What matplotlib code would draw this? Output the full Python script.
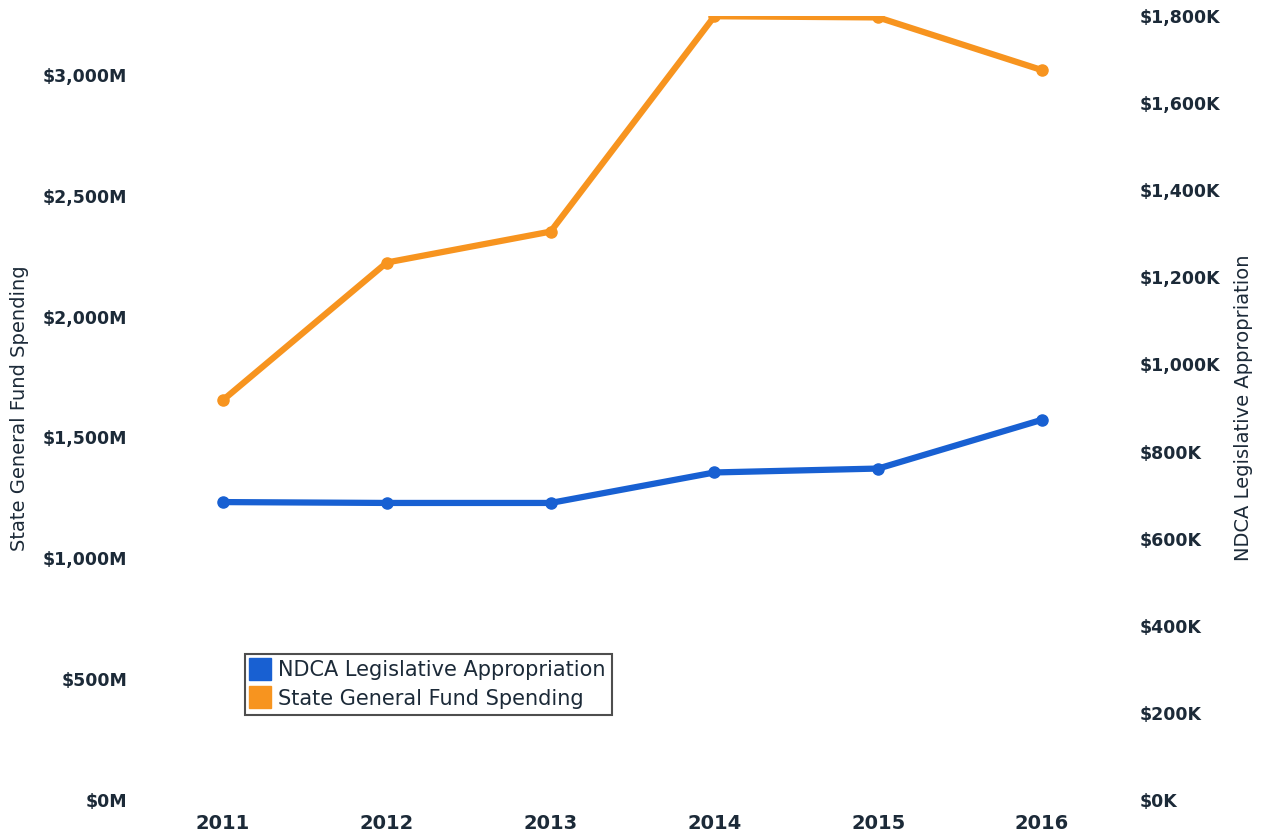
"""NDCA legislative appropriation vs. state general fund spending, 2011-2016."""

import matplotlib

matplotlib.use("Agg")
import matplotlib.pyplot as plt
from matplotlib.lines import Line2D
from matplotlib.ticker import FuncFormatter, MultipleLocator

years = [2011, 2012, 2013, 2014, 2015, 2016]
state_spending_m = [1655, 2224, 2352, 3243, 3238, 3020]   # $M, left axis
ndca_approp_k = [684, 682, 682, 752, 761, 873]             # $K, right axis

_C_ORANGE = "#f7941f"
_C_BLUE = "#1860d2"
_C_TEXT = "#1c2a38"

plt.rcParams.update({
    "font.family": "DejaVu Sans",
    "text.color": _C_TEXT,
    "axes.labelcolor": _C_TEXT,
    "xtick.color": _C_TEXT,
    "ytick.color": _C_TEXT,
})

fig = plt.figure(figsize=(12.64, 8.38), dpi=100)
ax = fig.add_axes([130 / 1264, 38 / 838, 1000 / 1264, 784 / 838])
ax2 = ax.twinx()

ax.plot(years, state_spending_m, color=_C_ORANGE, lw=4.5, marker="o", ms=8,
        solid_capstyle="round", zorder=3)
ax2.plot(years, ndca_approp_k, color=_C_BLUE, lw=4.5, marker="o", ms=8,
         solid_capstyle="round", zorder=3)

ax.set_xlim(2010.432, 2016.537)
ax.set_ylim(0, 3244)
ax2.set_ylim(0, 1800)

ax.yaxis.set_major_locator(MultipleLocator(500))
ax2.yaxis.set_major_locator(MultipleLocator(200))
ax.yaxis.set_major_formatter(FuncFormatter(lambda v, _: f"${v:,.0f}M"))
ax2.yaxis.set_major_formatter(FuncFormatter(lambda v, _: f"${v:,.0f}K"))
ax.set_xticks(years)
ax.set_xticklabels([str(y) for y in years], fontsize=14, fontweight="bold")

for a in (ax, ax2):
    for s in a.spines.values():
        s.set_visible(False)
    a.tick_params(length=0)
    a.tick_params(axis="y", labelsize=12.5)
    for t in a.get_yticklabels():
        t.set_fontweight("bold")
ax.tick_params(axis="y", pad=2)
ax2.tick_params(axis="y", pad=7)
ax.tick_params(axis="x", pad=10)

ax.set_ylabel("State General Fund Spending", fontsize=14, labelpad=10)
ax2.set_ylabel("NDCA Legislative Appropriation", fontsize=14, labelpad=10)

handles = [
    Line2D([], [], ls="none", marker="s", ms=16, color=_C_BLUE),
    Line2D([], [], ls="none", marker="s", ms=16, color=_C_ORANGE),
]
leg = fig.legend(handles, ["NDCA Legislative Appropriation", "State General Fund Spending"],
                 loc="lower left", bbox_to_anchor=(245 / 1264, (838 - 715) / 838),
                 fontsize=15, frameon=True, fancybox=False, edgecolor="#222222",
                 handlelength=0.8, handletextpad=0.5, borderpad=0.3, labelspacing=0.4,
                 borderaxespad=0)
leg.get_frame().set_linewidth(1.5)

fig.savefig("out.png", dpi=100)
